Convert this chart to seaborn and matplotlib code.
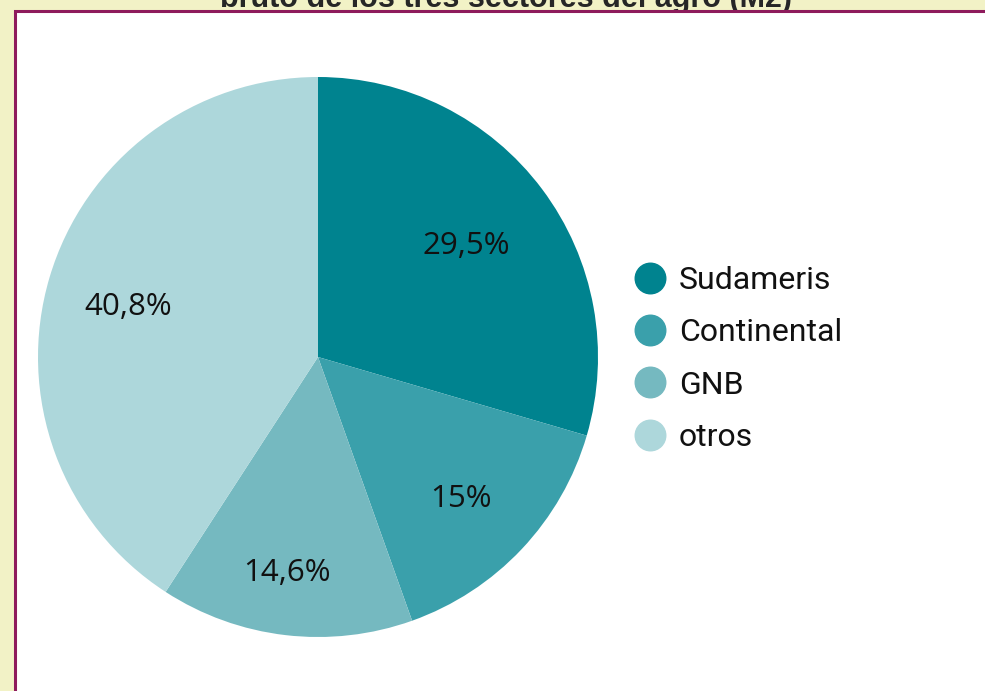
import matplotlib
matplotlib.use("Agg")
import matplotlib.pyplot as plt
from matplotlib.patches import Rectangle
from matplotlib.lines import Line2D
import numpy as np
import seaborn as sns

# data
bancos = ["Sudameris", "Continental", "GNB", "otros"]
participacion = [29.5, 15.0, 14.6, 40.8]
etiquetas = ["29,5%", "15%", "14,6%", "40,8%"]
titulo = "bruto de los tres sectores del agro (M2)"

colores = sns.color_palette(["#00838F", "#3AA0AB", "#75B9C0", "#ADD7DB"])

sns.set_style("white")
plt.rcParams["font.family"] = ["Roboto", "DejaVu Sans"]

W, H = 985, 691
fig = plt.figure(figsize=(W / 100, H / 100), dpi=100)
fig.patch.set_facecolor("#F2F2C6")

# white panel with purple border
panel = Rectangle((14.5 / W, -0.01), 1.0, (H - 10.5) / H + 0.01, transform=fig.transFigure,
                  facecolor="white", edgecolor="#8E1B5C", linewidth=2.2, zorder=2)
fig.patches.append(panel)

# title, cut off by the top of the picture
fig.text(506 / W, (H - 7) / H, titulo, ha="center", va="baseline", fontsize=22,
         fontweight="bold", family=["Liberation Sans", "DejaVu Sans"], zorder=1)

# pie
cx, cy, r = 318, H - 357, 280
ax = fig.add_axes([(cx - r) / W, (cy - r) / H, 2 * r / W, 2 * r / H])
ax.set_zorder(3)
ax.patch.set_alpha(0)
wedges, _ = ax.pie(participacion, colors=colores, startangle=90, counterclock=False,
                   radius=1.0, wedgeprops=dict(linewidth=0))
# label radius and small angle nudge per wedge
dist_etiqueta = [0.66, 0.72, 0.78, 0.70]
giro = [0, -1.5, -1.5, 1.8]
for w, lab, d, g in zip(wedges, etiquetas, dist_etiqueta, giro):
    ang = np.deg2rad((w.theta1 + w.theta2) / 2 + g)
    ax.text(d * np.cos(ang), d * np.sin(ang), lab, ha="center", va="center",
            fontsize=22.5, family=["Open Sans", "DejaVu Sans"], color="#111111")
ax.set_xlim(-1, 1)
ax.set_ylim(-1, 1)
ax.set_aspect("equal")
ax.axis("off")

handles = [Line2D([], [], marker="o", linestyle="", markersize=22, markerfacecolor=c,
                  markeredgecolor=c) for c in colores]
leg = fig.legend(handles, bancos, loc="upper left", bbox_to_anchor=(612 / W, (H - 250) / H),
                 frameon=False, fontsize=23, handletextpad=0.2, labelspacing=0.73,
                 handlelength=1.4, borderpad=0)
for t in leg.get_texts():
    t.set_color("#111111")
leg.set_zorder(4)

fig.savefig("out.png", dpi=100, facecolor=fig.get_facecolor())
